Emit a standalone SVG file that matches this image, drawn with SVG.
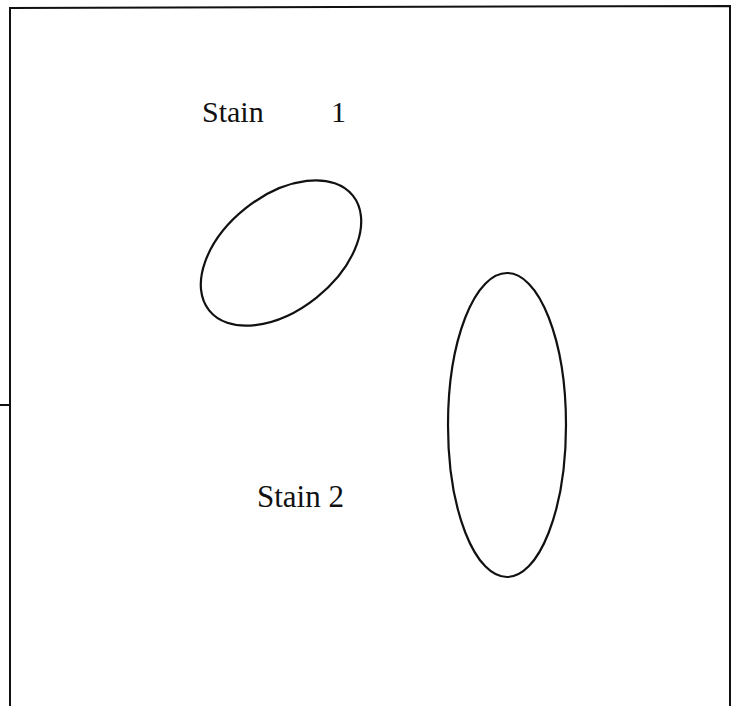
<svg xmlns="http://www.w3.org/2000/svg" width="740" height="706" viewBox="0 0 740 706">
<style>
.frame{fill:none;stroke:#111;stroke-width:2}
.stain{fill:none;stroke:#111;stroke-width:2.2}
.lbl{font-family:"Liberation Serif","Times New Roman",serif;font-size:30px;fill:#111}
</style>
<rect width="740" height="706" fill="#fff"/>
<g id="frame">
<path class="frame" d="M10,706 L10,8 L730,6 L730,706"/>
<line class="frame" x1="0" y1="405" x2="10" y2="405" stroke-width="1.5"/>
</g>
<g id="stain1">
<ellipse class="stain" cx="281" cy="253" rx="92" ry="57" transform="rotate(-38.6 281 253)"/>
<text class="lbl" x="202" y="122">Stain</text>
<text class="lbl" x="331" y="122">1</text>
</g>
<g id="stain2">
<ellipse class="stain" cx="507" cy="425" rx="59" ry="152"/>
<text class="lbl" x="257" y="507" style="font-size:31px">Stain 2</text>
</g>
</svg>
